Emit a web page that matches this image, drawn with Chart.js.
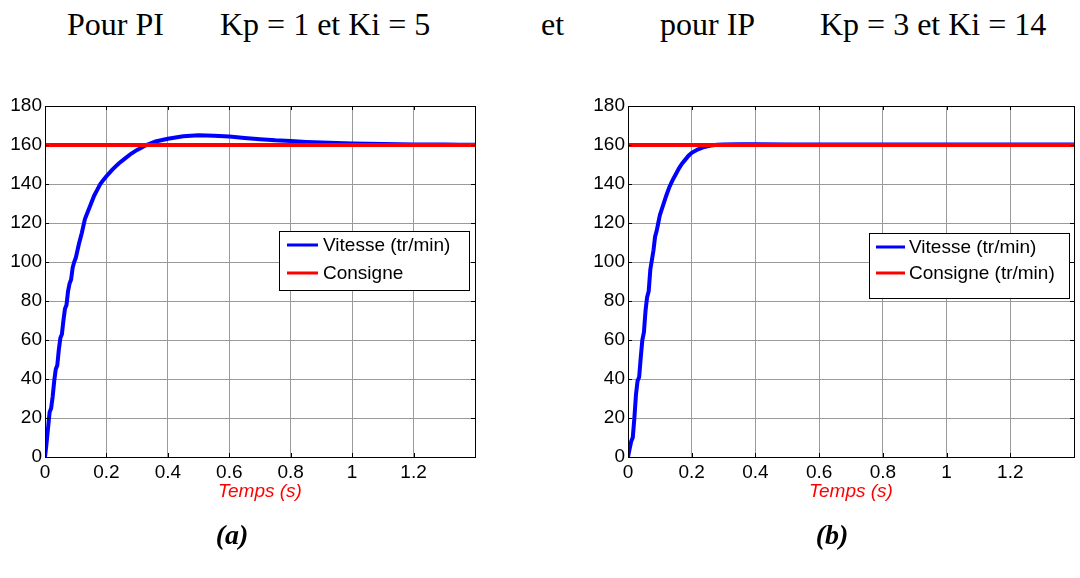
<!DOCTYPE html>
<html>
<head>
<meta charset="utf-8">
<script src="https://cdn.jsdelivr.net/npm/chart.js@4.4.1/dist/chart.umd.min.js"></script>
<style>
  html, body { margin: 0; padding: 0; background: #fff; }
  body { width: 1080px; height: 578px; position: relative; overflow: hidden;
         font-family: "Liberation Serif", "Times New Roman", serif; color: #000; }
  .hdr { position: absolute; top: 8px; font-size: 32px; line-height: 32px; white-space: nowrap; }
  .cap { position: absolute; top: 521px; width: 80px; margin-left: -40px; text-align: center;
         font-size: 28px; line-height: 28px; font-weight: bold; font-style: italic; }
  .plot { position: absolute; top: 90px; width: 500px; height: 430px; }
</style>
</head>
<body>
<div class="hdr" style="left:67px">Pour PI</div>
<div class="hdr" style="left:220px">Kp = 1 et Ki = 5</div>
<div class="hdr" style="left:541px">et</div>
<div class="hdr" style="left:660px">pour IP</div>
<div class="hdr" style="left:820px">Kp = 3 et Ki = 14</div>

<div class="plot" style="left:0"><canvas id="chartA"></canvas></div>
<div class="plot" style="left:580px"><canvas id="chartB"></canvas></div>

<div class="cap" style="left:232px">(a)</div>
<div class="cap" style="left:832px">(b)</div>

<script>
// time axis (s) and speed response for the PI controller
const timeA = [0, 0.005, 0.01, 0.015, 0.02, 0.025, 0.03, 0.035, 0.04, 0.045,
               0.05, 0.055, 0.06, 0.065, 0.07, 0.075, 0.08, 0.085, 0.09, 0.095,
               0.10, 0.11, 0.12, 0.13, 0.14, 0.15, 0.16, 0.17, 0.18, 0.19, 0.20,
               0.22, 0.24, 0.26, 0.28, 0.30, 0.33, 0.36, 0.40, 0.45, 0.50,
               0.55, 0.60, 0.65, 0.70, 0.75, 0.80, 0.85, 0.90, 0.95, 1.00,
               1.05, 1.10, 1.15, 1.20, 1.25, 1.30, 1.35, 1.40];
const vitesseA = [0, 7, 15, 23, 25, 31, 39, 45, 47, 55,
                  61, 63, 70, 76, 78, 85, 89, 91, 97, 100,
                  102, 109, 115, 122, 126, 130, 134, 137, 140, 142, 144,
                  147.5, 150.5, 153, 155.5, 157.5, 160, 161.8, 163.2, 164.5, 165,
                  164.8, 164.3, 163.6, 163, 162.4, 162, 161.6, 161.3, 161, 160.8,
                  160.6, 160.5, 160.4, 160.3, 160.2, 160.2, 160.1, 160.1];

// time axis (s) and speed response for the IP controller
const timeB = [0, 0.005, 0.01, 0.015, 0.02, 0.025, 0.03, 0.035, 0.04, 0.045,
               0.05, 0.055, 0.06, 0.065, 0.07, 0.075, 0.08, 0.085, 0.09, 0.095,
               0.10, 0.11, 0.12, 0.13, 0.14, 0.15, 0.16, 0.17, 0.18, 0.19, 0.20,
               0.22, 0.24, 0.26, 0.28, 0.30, 0.35, 0.40, 0.50, 0.60, 0.70,
               0.80, 0.90, 1.00, 1.10, 1.20, 1.30, 1.40];
const vitesseB = [0, 4, 8, 10, 20, 32, 39, 41, 51, 60,
                  64, 75, 82, 85, 96, 101, 106, 113, 116, 120,
                  124, 129, 134, 138.5, 142, 145, 148, 150.5, 152.5, 154.5, 156,
                  157.8, 159, 159.7, 160.1, 160.3, 160.4, 160.4, 160.3, 160.3, 160.3,
                  160.2, 160.2, 160.2, 160.2, 160.2, 160.2, 160.2];

// reference speed, constant over the whole run
const consigneTime = [0, 1.4];
const consigne = [160, 160];

const xTicks = [0, 0.2, 0.4, 0.6, 0.8, 1, 1.2];
const xTickLabels = ['0', '0.2', '0.4', '0.6', '0.8', '1', '1.2'];
const yTicks = [0, 20, 40, 60, 80, 100, 120, 140, 160, 180];

Chart.defaults.font.family = '"Liberation Sans", Arial, sans-serif';
Chart.defaults.font.size = 19;
Chart.defaults.color = '#000';

const toPoints = (xs, ys) => xs.map((x, i) => ({ x: x, y: ys[i] }));

// black box round the plot with short inward tick marks on all four sides
const framePlugin = {
    id: 'frame',
    afterDraw(chart) {
        const { ctx, chartArea: a, scales } = chart;
        ctx.save();
        ctx.strokeStyle = '#000';
        ctx.lineWidth = 1;
        ctx.strokeRect(Math.round(a.left) + 0.5, Math.round(a.top) + 0.5,
                       Math.round(a.right - a.left), Math.round(a.bottom - a.top));
        ctx.beginPath();
        scales.x.ticks.forEach(t => {
            const px = Math.round(scales.x.getPixelForValue(t.value)) + 0.5;
            ctx.moveTo(px, a.bottom); ctx.lineTo(px, a.bottom - 4);
            ctx.moveTo(px, a.top);    ctx.lineTo(px, a.top + 4);
        });
        scales.y.ticks.forEach(t => {
            const py = Math.round(scales.y.getPixelForValue(t.value)) + 0.5;
            ctx.moveTo(a.left, py);  ctx.lineTo(a.left + 4, py);
            ctx.moveTo(a.right, py); ctx.lineTo(a.right - 4, py);
        });
        ctx.stroke();
        ctx.restore();
    }
};

// boxed legend placed inside the plot
const boxLegendPlugin = {
    id: 'boxLegend',
    afterDraw(chart, args, opts) {
        const { ctx } = chart;
        ctx.save();
        ctx.fillStyle = '#fff';
        ctx.fillRect(opts.left, opts.top, opts.width, opts.height);
        ctx.strokeStyle = '#000';
        ctx.lineWidth = 1;
        ctx.strokeRect(opts.left + 0.5, opts.top + 0.5, opts.width, opts.height);
        ctx.font = '19px "Liberation Sans", Arial, sans-serif';
        ctx.textBaseline = 'middle';
        ctx.fillStyle = '#000';
        chart.data.datasets.forEach((ds, i) => {
            const y = opts.rows[i];
            ctx.strokeStyle = ds.borderColor;
            ctx.lineWidth = 3;
            ctx.beginPath();
            ctx.moveTo(opts.lineX, y);
            ctx.lineTo(opts.lineX + opts.lineLen, y);
            ctx.stroke();
            ctx.fillText(ds.label, opts.textX, y + 1);
        });
        ctx.restore();
    }
};

function makeChart(id, time, vitesse, consigneLabel, padding, yWidth, legend) {
    return new Chart(document.getElementById(id), {
        type: 'line',
        data: {
            datasets: [{
                label: 'Vitesse (tr/min)',
                data: toPoints(time, vitesse),
                borderColor: '#0000ff',
                borderWidth: 4,
                pointRadius: 0,
                tension: 0,
                order: 2
            }, {
                label: consigneLabel,
                data: toPoints(consigneTime, consigne),
                borderColor: '#ff0000',
                borderWidth: 4,
                pointRadius: 0,
                tension: 0,
                order: 1
            }]
        },
        options: {
            responsive: true,
            maintainAspectRatio: false,
            animation: false,
            events: [],
            layout: { padding: padding },
            plugins: {
                legend: { display: false },
                tooltip: { enabled: false },
                boxLegend: legend
            },
            scales: {
                x: {
                    type: 'linear',
                    min: 0,
                    max: 1.4,
                    afterBuildTicks: s => { s.ticks = xTicks.map(v => ({ value: v })); },
                    afterFit: s => { s.height = 46; },
                    ticks: {
                        padding: 4,
                        maxRotation: 0,
                        callback: (v) => xTickLabels[xTicks.indexOf(v)]
                    },
                    grid: { color: '#9a9a9a', lineWidth: 1, drawTicks: false },
                    border: { display: false },
                    title: {
                        display: true,
                        text: 'Temps (s)',
                        color: '#ff0000',
                        padding: 0,
                        font: { size: 19, style: 'italic' }
                    }
                },
                y: {
                    min: 0,
                    max: 180,
                    afterBuildTicks: s => { s.ticks = yTicks.map(v => ({ value: v })); },
                    afterFit: s => { s.width = yWidth; },
                    ticks: { padding: 3 },
                    grid: { color: '#9a9a9a', lineWidth: 1, drawTicks: false },
                    border: { display: false }
                }
            }
        },
        plugins: [framePlugin, boxLegendPlugin]
    });
}

makeChart('chartA', timeA, vitesseA, 'Consigne',
    { top: 16, right: 25, bottom: 17, left: 0 }, 45,
    { left: 279, top: 141, width: 190, height: 59, rows: [155, 183], lineX: 287, lineLen: 31, textX: 323 });

makeChart('chartB', timeB, vitesseB, 'Consigne (tr/min)',
    { top: 16, right: 6, bottom: 17, left: 0 }, 48,
    { left: 289, top: 143, width: 200, height: 65, rows: [157, 183], lineX: 296, lineLen: 29, textX: 329 });
</script>
</body>
</html>
